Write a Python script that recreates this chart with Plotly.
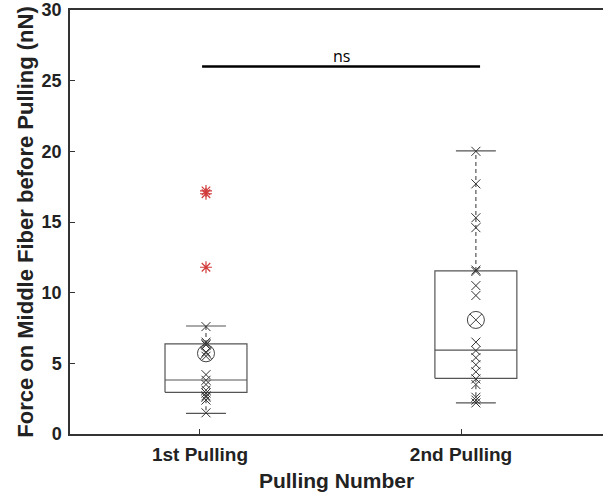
import plotly.graph_objects as go

# Groups and their x positions on the numeric category axis
categories = ["1st Pulling", "2nd Pulling"]
tick_positions = [1, 2]
box_centers = [1.023, 2.057]

# Box statistics (nN)
q1 = [2.95, 3.94]
median = [3.82, 5.94]
q3 = [6.37, 11.54]
lower_whisker = [1.46, 2.2]
upper_whisker = [7.64, 20.03]
mean = [5.71, 8.07]

# Individual measurements (nN)
points_1st = [7.6, 6.5, 6.4, 6.3, 5.8, 5.5, 4.2, 3.8, 3.5, 3.1, 2.9, 2.7, 2.6, 2.4, 1.5]
outliers_1st = [17.2, 17.0, 11.8]
points_2nd = [20.0, 17.7, 15.3, 14.6, 11.6, 11.5, 10.5, 9.8, 6.5, 5.9, 5.4, 4.9,
              4.4, 3.9, 3.5, 2.6, 2.4, 2.2]

# Significance bracket
sig_span = [1.008, 2.073]
sig_level = 26.0
sig_label = "ns"

BOX_W = 0.314
CAP_W = 0.153
LINE = "#555555"
FONT = "Liberation Sans, Arial, sans-serif"

fig = go.Figure()

for i, c in enumerate(box_centers):
    l, r = c - BOX_W / 2, c + BOX_W / 2
    # box outline
    fig.add_trace(go.Scatter(x=[l, r, r, l, l], y=[q1[i], q1[i], q3[i], q3[i], q1[i]],
                             mode="lines", line=dict(color=LINE, width=1.2),
                             hoverinfo="skip", showlegend=False))
    # median
    fig.add_trace(go.Scatter(x=[l, r], y=[median[i], median[i]], mode="lines",
                             line=dict(color=LINE, width=1.2), hoverinfo="skip",
                             showlegend=False))
    # whiskers (dashed)
    for a, b in [(q3[i], upper_whisker[i]), (q1[i], lower_whisker[i])]:
        fig.add_trace(go.Scatter(x=[c, c], y=[a, b], mode="lines",
                                 line=dict(color=LINE, width=1.2, dash="4px,3px"),
                                 hoverinfo="skip", showlegend=False))
    # caps
    for v in [upper_whisker[i], lower_whisker[i]]:
        fig.add_trace(go.Scatter(x=[c - CAP_W / 2, c + CAP_W / 2], y=[v, v], mode="lines",
                                 line=dict(color=LINE, width=1.2), hoverinfo="skip",
                                 showlegend=False))

# data points
for c, pts in zip(box_centers, [points_1st, points_2nd]):
    fig.add_trace(go.Scatter(x=[c] * len(pts), y=pts, mode="markers",
                             marker=dict(symbol="x-thin", size=9,
                                         line=dict(color="#333333", width=1)),
                             showlegend=False))

# outliers
fig.add_trace(go.Scatter(x=[box_centers[0]] * len(outliers_1st), y=outliers_1st,
                         mode="markers",
                         marker=dict(symbol="asterisk", size=10,
                                     line=dict(color="#d23c3c", width=1.2)),
                         showlegend=False))

# means
fig.add_trace(go.Scatter(x=box_centers, y=mean, mode="markers",
                         marker=dict(symbol="circle-x-open", size=17, color="#444444",
                                     line=dict(color="#444444", width=1)),
                         showlegend=False))

# significance line
fig.add_trace(go.Scatter(x=sig_span, y=[sig_level, sig_level], mode="lines",
                         line=dict(color="black", width=2.5), hoverinfo="skip",
                         showlegend=False))
fig.add_annotation(x=sum(sig_span) / 2, y=sig_level, text=sig_label, showarrow=False,
                   yanchor="bottom", yshift=-2,
                   font=dict(family="Open Sans, Liberation Sans, sans-serif", size=16,
                             color="black"))

fig.update_layout(
    width=603, height=500,
    margin=dict(l=70, r=0, t=10, b=66),
    paper_bgcolor="white", plot_bgcolor="white",
    font=dict(family=FONT, color="#222222"),
    xaxis=dict(range=[0.502, 2.544], tickvals=tick_positions, ticktext=categories,
               ticks="inside", ticklen=5, tickcolor="#333333",
               showline=True, linecolor="#333333", linewidth=1.5, mirror=True,
               showgrid=False, zeroline=False, ticklabelstandoff=2,
               tickfont=dict(family=FONT, size=19, color="#222222", weight="bold"),
               title=dict(text="Pulling Number",
                          font=dict(size=21, family=FONT, weight="bold"),
                          standoff=10)),
    yaxis=dict(range=[0, 30], tickvals=[0, 5, 10, 15, 20, 25, 30],
               ticks="inside", ticklen=5, tickcolor="#333333",
               showline=True, linecolor="#333333", linewidth=1.5,
               showgrid=False, zeroline=False, ticklabelstandoff=3,
               tickfont=dict(family=FONT, size=18, color="#222222", weight="bold"),
               title=dict(text="Force on Middle Fiber before Pulling (nN)",
                          font=dict(size=22, family=FONT, weight="bold"),
                          standoff=2)),
)

fig.write_html("out.html")
